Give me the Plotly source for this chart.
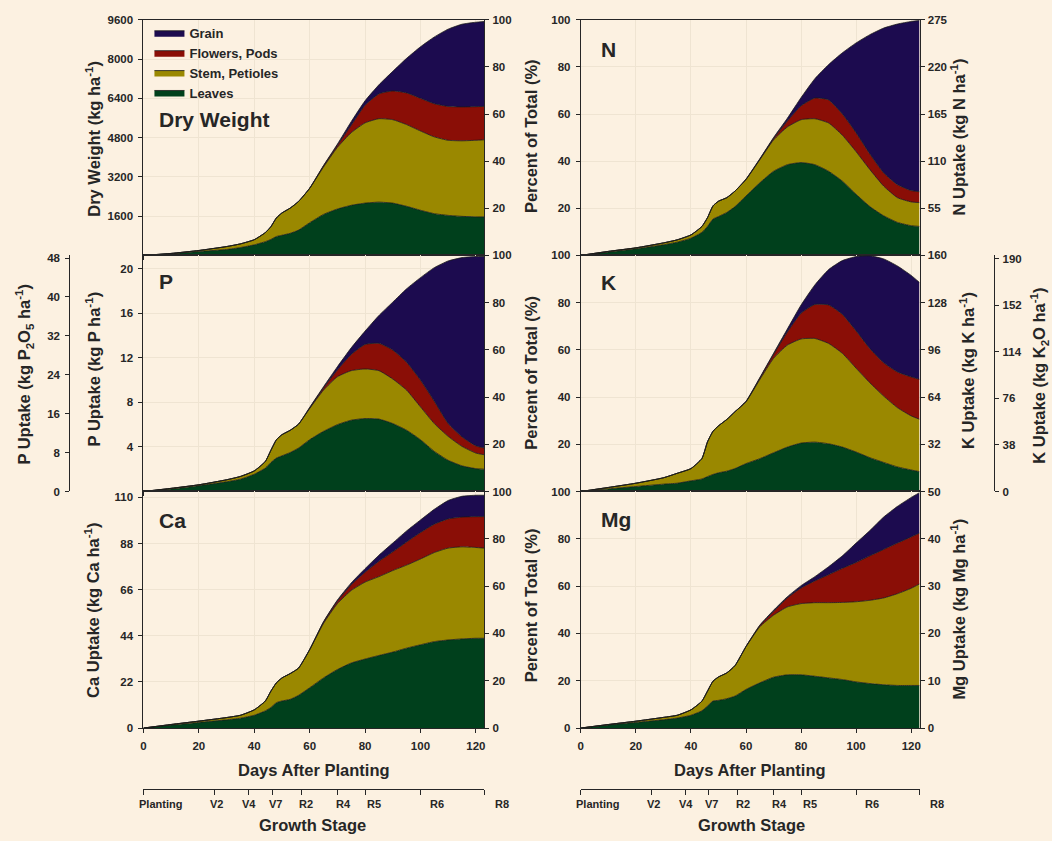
import plotly.graph_objects as go

# ---------------- data ----------------
days = [0, 10, 20, 30, 35, 40, 44, 46, 48, 50, 53, 56, 60, 65, 70, 75, 80, 85, 90, 95, 100, 105, 110, 115, 120, 123]

# Dry weight (kg/ha), cumulative layer tops
dw_leaves  = [0, 65, 160, 240, 320, 430, 560, 650, 770, 820, 900, 1030, 1330, 1670, 1890, 2040, 2130, 2170, 2130, 2000, 1840, 1700, 1630, 1590, 1570, 1570]
dw_stem    = [0, 80, 200, 360, 470, 640, 930, 1170, 1530, 1730, 1930, 2200, 2730, 3600, 4400, 5000, 5400, 5570, 5530, 5330, 5070, 4830, 4690, 4670, 4690, 4710]
dw_flowers = [0, 80, 200, 360, 470, 640, 930, 1170, 1530, 1730, 1930, 2200, 2735, 3650, 4480, 5300, 6120, 6580, 6700, 6620, 6400, 6180, 6070, 6050, 6060, 6070]
dw_grain   = [0, 80, 200, 360, 470, 640, 930, 1170, 1530, 1730, 1930, 2200, 2740, 3660, 4530, 5450, 6300, 6950, 7500, 8030, 8500, 8900, 9220, 9420, 9500, 9530]

# N (percent of total), cumulative layer tops
n_leaves  = [0, 1.4, 2.8, 4.5, 5.6, 7.3, 9.8, 12.3, 15.4, 16.5, 18.2, 20.7, 25.2, 30.8, 35.7, 38.5, 39.4, 38.5, 35.7, 31.5, 25.9, 20.7, 16.8, 14.0, 12.6, 12.3]
n_stem    = [0, 1.7, 3.2, 5.3, 6.6, 8.7, 12.3, 16.0, 21.0, 23.0, 24.5, 27.3, 32.2, 40.6, 49.0, 54.5, 57.6, 58.0, 56.2, 51.0, 44.0, 36.4, 29.4, 24.5, 22.7, 22.4]
n_flowers = [0, 1.7, 3.2, 5.3, 6.6, 8.7, 12.3, 16.0, 21.0, 23.0, 24.5, 27.3, 32.3, 40.8, 49.6, 57.0, 63.5, 66.8, 66.0, 60.0, 52.0, 43.0, 35.0, 30.0, 27.5, 27.0]
n_grain   = [0, 1.7, 3.2, 5.3, 6.6, 8.7, 12.3, 16.0, 21.0, 23.0, 24.5, 27.3, 32.4, 41.0, 50.0, 58.2, 67.0, 75.0, 81.0, 86.0, 90.2, 93.7, 96.5, 98.2, 99.3, 99.7]

# P (kg P/ha), cumulative layer tops
p_leaves  = [0, 0.22, 0.52, 0.87, 1.1, 1.55, 2.1, 2.6, 3.0, 3.2, 3.5, 3.9, 4.65, 5.4, 6.0, 6.4, 6.55, 6.5, 6.1, 5.5, 4.65, 3.6, 2.8, 2.3, 2.05, 2.0]
p_stem    = [0, 0.28, 0.6, 1.05, 1.35, 1.85, 2.7, 3.7, 4.65, 5.1, 5.5, 6.05, 7.45, 9.1, 10.3, 10.85, 11.0, 10.85, 10.1, 9.1, 7.6, 6.1, 4.95, 4.05, 3.45, 3.3]
p_flowers = [0, 0.28, 0.6, 1.05, 1.35, 1.85, 2.7, 3.7, 4.65, 5.1, 5.5, 6.05, 7.5, 9.3, 10.9, 12.3, 13.2, 13.3, 12.7, 11.6, 10.0, 8.1, 6.1, 4.9, 4.1, 3.9]
p_grain   = [0, 0.28, 0.6, 1.05, 1.35, 1.85, 2.7, 3.7, 4.65, 5.1, 5.5, 6.05, 7.55, 9.4, 11.2, 12.9, 14.4, 15.8, 17.0, 18.2, 19.2, 20.1, 20.7, 21.0, 21.1, 21.1]

# K (percent of total), cumulative layer tops
k_leaves  = [0, 1.1, 2.1, 3.1, 3.5, 4.5, 5.3, 6.3, 7.2, 7.9, 8.6, 9.7, 11.8, 13.9, 16.4, 18.8, 20.5, 20.9, 20.2, 18.8, 16.7, 14.3, 12.3, 10.4, 9.1, 8.4]
k_stem    = [0, 1.7, 3.5, 5.8, 7.7, 9.7, 14.0, 21.0, 25.5, 27.8, 30.5, 33.8, 38.0, 47.4, 56.4, 62.0, 64.6, 64.8, 62.7, 58.5, 52.2, 46.0, 40.4, 35.5, 32.0, 30.6]
k_flowers = [0, 1.7, 3.5, 5.8, 7.7, 9.7, 14.0, 21.0, 25.5, 27.8, 30.5, 33.8, 38.1, 48.0, 58.0, 67.5, 75.5, 79.2, 79.0, 75.0, 68.0, 60.5, 54.5, 50.6, 48.5, 47.5]
k_grain   = [0, 1.7, 3.5, 5.8, 7.7, 9.7, 14.0, 21.0, 25.5, 27.8, 30.5, 33.8, 38.2, 48.2, 58.5, 68.8, 79.0, 87.5, 94.0, 97.8, 99.5, 99.8, 98.5, 95.5, 91.5, 88.5]

# Ca (kg Ca/ha), cumulative layer tops
ca_leaves  = [0, 1.4, 2.7, 3.9, 4.7, 6.1, 8.2, 9.8, 12.1, 12.9, 13.7, 15.6, 19.2, 23.9, 27.9, 31.0, 32.9, 34.6, 36.2, 38.1, 39.7, 41.2, 42.0, 42.5, 42.8, 42.8]
ca_stem    = [0, 1.7, 3.3, 5.0, 6.1, 8.7, 12.9, 17.6, 21.6, 23.9, 26.0, 28.6, 37.3, 49.9, 59.3, 65.6, 69.6, 72.2, 75.1, 77.7, 80.6, 83.7, 85.8, 86.4, 86.1, 85.8]
ca_flowers = [0, 1.7, 3.3, 5.0, 6.1, 8.7, 12.9, 17.6, 21.6, 23.9, 26.0, 28.6, 37.4, 50.5, 60.5, 68.3, 74.3, 79.5, 84.0, 88.7, 93.2, 97.2, 99.7, 100.6, 100.8, 100.8]
ca_grain   = [0, 1.7, 3.3, 5.0, 6.1, 8.7, 12.9, 17.6, 21.6, 23.9, 26.0, 28.6, 37.5, 50.7, 61.0, 69.2, 76.0, 82.4, 88.2, 94.0, 99.2, 104.3, 108.5, 110.5, 111.0, 111.0]

# Mg (percent of total), cumulative layer tops
mg_leaves  = [0, 1.3, 2.4, 3.5, 4.2, 5.4, 7.3, 9.3, 11.4, 11.7, 12.4, 13.5, 16.3, 19.1, 21.5, 22.5, 22.5, 21.9, 21.2, 20.5, 19.5, 18.8, 18.3, 18.0, 18.0, 18.0]
mg_stem    = [0, 1.5, 2.9, 4.5, 5.4, 7.7, 11.4, 15.6, 19.8, 21.6, 23.3, 26.4, 34.4, 42.8, 47.7, 51.2, 52.6, 53.0, 53.0, 53.1, 53.4, 54.0, 55.0, 56.8, 59.1, 60.9]
mg_flowers = [0, 1.5, 2.9, 4.5, 5.4, 7.7, 11.4, 15.6, 19.8, 21.6, 23.3, 26.4, 34.5, 43.3, 49.3, 55.0, 59.2, 62.2, 64.8, 67.5, 70.0, 72.8, 75.5, 78.2, 80.8, 82.4]
mg_grain   = [0, 1.5, 2.9, 4.5, 5.4, 7.7, 11.4, 15.6, 19.8, 21.6, 23.3, 26.4, 34.5, 43.5, 49.8, 55.5, 60.2, 64.0, 68.2, 72.8, 78.2, 83.5, 89.2, 93.7, 97.5, 99.5]

layer_names = ["Leaves", "Stem, Petioles", "Flowers, Pods", "Grain"]

# tick values / labels
day_ticks = [0, 20, 40, 60, 80, 100, 120]
pct_ticks_top = [20, 40, 60, 80, 100]
pct_ticks_all = [0, 20, 40, 60, 80, 100]
dw_ticks = [1600, 3200, 4800, 6400, 8000, 9600]
n_ticks = [55, 110, 165, 220, 275]
p_ticks = [4, 8, 12, 16, 20]
p2o5_ticks = [0, 8, 16, 24, 32, 40, 48]
k_ticks = [32, 64, 96, 128, 160]
k2o_ticks = [0, 38, 76, 114, 152, 190]
ca_ticks = [0, 22, 44, 66, 88, 110]
mg_ticks = [0, 10, 20, 30, 40, 50]

stage_ticks = [0, 25.7, 38, 46.5, 57, 70, 80.3, 100, 123]
stage_labels = ["Planting", "V2", "V4", "V7", "R2", "R4", "R5", "R6", "R8"]
stage_label_days = [6.0, 26.5, 38.2, 47.6, 58.8, 72.3, 83.1, 105.9, 129.3]

# ---------------- styling ----------------
W, H = 1052, 841
BG = "#FCF1E1"
GRID = "#EFE4D2"
INK = "#262626"
EDGE = "#1a1a1a"
FONT = "Liberation Sans"
COLORS = {"Leaves": "#00401C", "Stem, Petioles": "#9A8800",
          "Flowers, Pods": "#8A0E06", "Grain": "#1C0B4F"}

def fx(p):
    return p / W

def fy(p):
    return 1 - p / H

LX = [fx(141), fx(483)]
RX = [fx(580), fx(920)]
R1 = [fy(253), fy(14)]
R2 = [fy(492.5), fy(253)]
R3 = [fy(732.5), fy(492.5)]
XR = [0, 123]

tickfont = dict(family=FONT, size=11.5, color=INK, weight="bold")

fig = go.Figure()

def add_panel(xa, ya, layers, legend):
    for i, (name, vals) in enumerate(zip(layer_names, layers)):
        fig.add_trace(go.Scatter(
            x=days, y=vals, xaxis=xa, yaxis=ya, mode="lines",
            line=dict(color=EDGE, width=0.8, shape="spline", smoothing=0.5),
            fill="tozeroy" if i == 0 else "tonexty",
            fillcolor=COLORS[name], name=name, legendgroup=name,
            showlegend=legend, hoverinfo="skip"))

add_panel("x", "y", [dw_leaves, dw_stem, dw_flowers, dw_grain], True)
add_panel("x2", "y3", [n_leaves, n_stem, n_flowers, n_grain], False)
add_panel("x3", "y5", [p_leaves, p_stem, p_flowers, p_grain], False)
add_panel("x4", "y8", [k_leaves, k_stem, k_flowers, k_grain], False)
add_panel("x5", "y11", [ca_leaves, ca_stem, ca_flowers, ca_grain], False)
add_panel("x6", "y13", [mg_leaves, mg_stem, mg_flowers, mg_grain], False)

# placeholder traces so that secondary axes are drawn
for xa, ya in [("x", "y2"), ("x2", "y4"), ("x3", "y6"), ("x3", "y7"), ("x4", "y9"),
               ("x4", "y10"), ("x5", "y12"), ("x6", "y14"), ("x7", "y11"), ("x8", "y13")]:
    fig.add_trace(go.Scatter(x=[None], y=[None], xaxis=xa, yaxis=ya, mode="lines",
                             showlegend=False, hoverinfo="skip"))

def xax(domain, anchor, labels):
    return dict(domain=domain, anchor=anchor, range=XR, tickvals=day_ticks,
                showticklabels=labels, ticks="outside", ticklen=4, tickwidth=1,
                tickcolor=INK, showline=True, linecolor=INK, linewidth=1, mirror=True,
                showgrid=True, gridcolor=GRID, gridwidth=1, zeroline=False,
                tickfont=tickfont, ticklabelstandoff=3)

def yax(rng, tv, domain=None, anchor=None, side="left", overlaying=None,
        grid=False, position=None):
    d = dict(range=rng, tickvals=tv, side=side, ticks="outside", ticklen=4,
             tickwidth=1, tickcolor=INK, showline=True, linecolor=INK, linewidth=1,
             showgrid=grid, gridcolor=GRID, gridwidth=1, zeroline=False,
             tickfont=tickfont, ticklabelstandoff=3 if side == "left" else 1)
    if domain is not None:
        d["domain"] = domain
    if overlaying is not None:
        d["overlaying"] = overlaying
    if position is not None:
        d["anchor"] = "free"
        d["position"] = position
    else:
        d["anchor"] = anchor
    return d

def stage_axis(over):
    return dict(overlaying=over, anchor="free", position=fy(794), range=XR,
                tickvals=stage_ticks, showticklabels=False, ticks="outside",
                ticklen=5, tickwidth=1, tickcolor=INK, showline=True,
                linecolor=INK, linewidth=1, showgrid=False, zeroline=False)

layout_axes = dict(
    xaxis=xax(LX, "y", False),
    xaxis2=xax(RX, "y3", False),
    xaxis3=xax(LX, "y5", False),
    xaxis4=xax(RX, "y8", False),
    xaxis5=xax(LX, "y11", True),
    xaxis6=xax(RX, "y13", True),
    xaxis7=stage_axis("x5"),
    xaxis8=stage_axis("x6"),
    yaxis=yax([0, 9600], dw_ticks, R1, "x", grid=True),
    yaxis2=yax([0, 100], pct_ticks_top, anchor="x", side="right", overlaying="y"),
    yaxis3=yax([0, 100], pct_ticks_top, R1, "x2", grid=True),
    yaxis4=yax([0, 275], n_ticks, anchor="x2", side="right", overlaying="y3"),
    yaxis5=yax([0, 21.2], p_ticks, R2, "x3", grid=True),
    yaxis6=yax([0, 100], pct_ticks_top, anchor="x3", side="right", overlaying="y5"),
    yaxis7=yax([0, 48.55], p2o5_ticks, side="left", overlaying="y5", position=fx(66.5)),
    yaxis8=yax([0, 100], pct_ticks_top, R2, "x4", grid=True),
    yaxis9=yax([0, 160], k_ticks, anchor="x4", side="right", overlaying="y8"),
    yaxis10=yax([0, 192.7], k2o_ticks, side="right", overlaying="y8", position=fx(995)),
    yaxis11=yax([0, 112.8], ca_ticks, R3, "x5", grid=True),
    yaxis12=yax([0, 100], pct_ticks_all, anchor="x5", side="right", overlaying="y11"),
    yaxis13=yax([0, 100], pct_ticks_all, R3, "x6", grid=True),
    yaxis14=yax([0, 50], mg_ticks, anchor="x6", side="right", overlaying="y13"),
)

title_font = dict(family=FONT, size=16.5, color=INK, weight="bold")
panel_font = dict(family=FONT, size=21, color=INK, weight="bold")
stage_font = dict(family=FONT, size=11, color=INK, weight="bold")

annotations = []

def vtitle(text, xp, yp):
    annotations.append(dict(text=text, x=fx(xp), y=fy(yp), xref="paper", yref="paper",
                            textangle=-90, showarrow=False, font=title_font,
                            xanchor="center", yanchor="middle"))

def htitle(text, xp, yp):
    annotations.append(dict(text=text, x=fx(xp), y=fy(yp), xref="paper", yref="paper",
                            showarrow=False, font=title_font,
                            xanchor="center", yanchor="middle"))

def plabel(text, xp, yp):
    annotations.append(dict(text=text, x=fx(xp), y=fy(yp), xref="paper", yref="paper",
                            showarrow=False, font=panel_font,
                            xanchor="left", yanchor="middle"))

vtitle("Dry Weight (kg ha<sup>-1</sup>)", 90, 135)
vtitle("Percent of Total (%)", 530, 132)
vtitle("N Uptake (kg N ha<sup>-1</sup>)", 959, 133)
vtitle("P Uptake (kg P ha<sup>-1</sup>)", 90, 368)
vtitle("P Uptake (kg P<sub>2</sub>O<sub>5</sub> ha<sup>-1</sup>)", 21, 373)
vtitle("Percent of Total (%)", 530, 372)
vtitle("K Uptake (kg K ha<sup>-1</sup>)", 967, 370)
vtitle("K Uptake (kg K<sub>2</sub>O ha<sup>-1</sup>)", 1040, 375)
vtitle("Ca Uptake (kg Ca ha<sup>-1</sup>)", 90, 613)
vtitle("Percent of Total (%)", 530, 608)
vtitle("Mg Uptake (kg Mg ha<sup>-1</sup>)", 959, 612)

htitle("Days After Planting", 312, 775)
htitle("Days After Planting", 750, 775)
htitle("Growth Stage", 311, 831)
htitle("Growth Stage", 751, 831)

plabel("Dry Weight", 155, 115)
plabel("N", 598, 44)
plabel("P", 155, 279)
plabel("K", 598, 281)
plabel("Ca", 155, 522)
plabel("Mg", 598, 521)

# growth-stage labels, placed along each column's day scale
for dom in [LX, RX]:
    for lab, d in zip(stage_labels, stage_label_days):
        xp = dom[0] + (d - XR[0]) / (XR[1] - XR[0]) * (dom[1] - dom[0])
        annotations.append(dict(text=lab, x=xp, y=fy(810), xref="paper", yref="paper",
                                showarrow=False, font=stage_font,
                                xanchor="center", yanchor="middle"))

fig.update_layout(
    width=W, height=H, margin=dict(l=0, r=0, t=0, b=0),
    paper_bgcolor=BG, plot_bgcolor=BG,
    font=dict(family=FONT, color=INK),
    showlegend=True,
    legend=dict(x=fx(147), y=fy(12), xanchor="left", yanchor="top",
                traceorder="reversed", bgcolor="rgba(0,0,0,0)",
                font=dict(family=FONT, size=13, color=INK, weight="bold"),
                itemclick=False, itemdoubleclick=False),
    annotations=annotations,
    **layout_axes,
)

fig.write_html(
    "out.html",
    config={"displayModeBar": False},
    post_script="document.body.style.margin='0px';document.body.style.overflow='hidden';",
)
